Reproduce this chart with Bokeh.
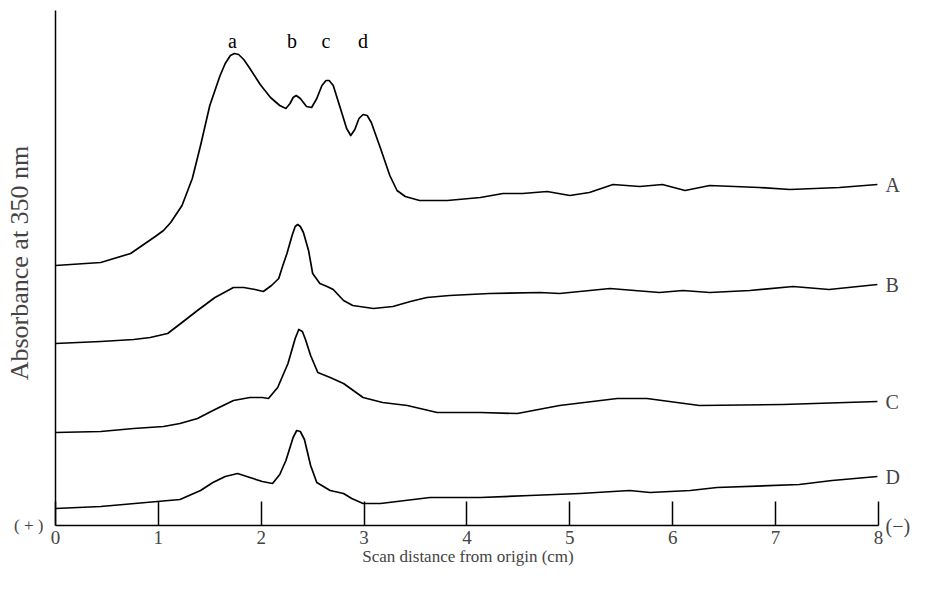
from bokeh.plotting import figure
from bokeh.models import Range1d, FixedTicker, Label, LinearAxis
from bokeh.embed import file_html
from bokeh.resources import INLINE

# Scan distance from origin (cm) and absorbance at 350 nm (arbitrary, offset traces)
xA = [0.00, 0.44, 0.73, 0.97, 1.05, 1.12, 1.23, 1.33, 1.41, 1.50, 1.60, 1.65, 1.70, 1.74, 1.78,
      1.83, 1.89, 1.99, 2.09, 2.18, 2.24, 2.28, 2.31, 2.34, 2.38, 2.44, 2.49, 2.54, 2.59, 2.63,
      2.66, 2.70, 2.77, 2.83, 2.87, 2.91, 2.95, 2.99, 3.03, 3.07, 3.16, 3.25, 3.32, 3.40, 3.54,
      3.81, 4.13, 4.35, 4.54, 4.78, 5.00, 5.19, 5.42, 5.68, 5.90, 6.12, 6.36, 6.84, 7.14, 7.62,
      7.99]
yA = [2.60, 2.63, 2.72, 2.89, 2.95, 3.03, 3.20, 3.47, 3.80, 4.20, 4.50, 4.62, 4.70, 4.72, 4.71,
      4.66, 4.57, 4.41, 4.28, 4.20, 4.17, 4.22, 4.28, 4.30, 4.27, 4.19, 4.18, 4.27, 4.40, 4.45,
      4.45, 4.40, 4.17, 3.97, 3.90, 3.96, 4.07, 4.11, 4.10, 4.03, 3.77, 3.50, 3.35, 3.29, 3.25,
      3.25, 3.28, 3.32, 3.32, 3.34, 3.30, 3.33, 3.41, 3.39, 3.41, 3.35, 3.40, 3.38, 3.36, 3.38,
      3.41]

xB = [0.00, 0.44, 0.76, 0.92, 1.09, 1.23, 1.38, 1.55, 1.73, 1.83, 1.94, 2.02, 2.10, 2.17, 2.21,
      2.25, 2.30, 2.33, 2.355, 2.38, 2.41, 2.46, 2.50, 2.57, 2.64, 2.70, 2.80, 2.89, 3.09, 3.28,
      3.45, 3.61, 3.83, 4.22, 4.71, 4.90, 5.39, 5.87, 6.10, 6.36, 6.75, 7.17, 7.52, 7.99]
yB = [1.82, 1.84, 1.86, 1.88, 1.92, 2.03, 2.15, 2.28, 2.38, 2.38, 2.36, 2.34, 2.40, 2.47, 2.60,
      2.72, 2.90, 2.99, 3.01, 2.99, 2.93, 2.75, 2.52, 2.42, 2.39, 2.36, 2.25, 2.20, 2.17, 2.19,
      2.24, 2.28, 2.30, 2.32, 2.33, 2.32, 2.37, 2.33, 2.35, 2.33, 2.35, 2.39, 2.36, 2.41]

xC = [0.00, 0.44, 0.76, 1.05, 1.21, 1.38, 1.55, 1.73, 1.89, 2.01, 2.07, 2.16, 2.26, 2.33, 2.365,
      2.40, 2.43, 2.48, 2.55, 2.67, 2.80, 2.99, 3.18, 3.42, 3.71, 4.13, 4.49, 4.90, 5.46, 5.75,
      6.26, 7.07, 7.99]
yC = [0.93, 0.94, 0.97, 0.99, 1.02, 1.07, 1.16, 1.25, 1.28, 1.28, 1.27, 1.38, 1.62, 1.87, 1.96,
      1.94, 1.86, 1.70, 1.53, 1.48, 1.42, 1.28, 1.23, 1.20, 1.13, 1.13, 1.12, 1.20, 1.27, 1.27,
      1.20, 1.21, 1.24]

xD = [0.00, 0.44, 0.99, 1.21, 1.41, 1.53, 1.65, 1.77, 1.89, 2.01, 2.11, 2.18, 2.24, 2.31, 2.345,
      2.38, 2.42, 2.48, 2.54, 2.67, 2.80, 2.88, 2.99, 3.16, 3.64, 4.13, 4.61, 5.10, 5.58, 5.78,
      6.17, 6.43, 7.23, 7.55, 7.99]
yD = [0.17, 0.19, 0.24, 0.26, 0.35, 0.43, 0.49, 0.52, 0.48, 0.44, 0.42, 0.51, 0.65, 0.88, 0.95,
      0.94, 0.86, 0.60, 0.43, 0.35, 0.32, 0.27, 0.22, 0.22, 0.28, 0.28, 0.30, 0.32, 0.35, 0.33,
      0.35, 0.38, 0.41, 0.45, 0.49]

x_ticks = [0, 1, 2, 3, 4, 5, 6, 7, 8]
trace_names = ["A", "B", "C", "D"]
peak_names = ["a", "b", "c", "d"]
peak_x = [1.72, 2.30, 2.63, 2.99]
anode_label = "( + )"
cathode_label = "(\u2212)"

SERIF = "Liberation Serif"

p = figure(width=913, height=573, output_backend="svg", toolbar_location=None,
           x_range=Range1d(0, 8.02), y_range=Range1d(0, 5.25),
           min_border_left=55, min_border_right=32, min_border_top=0, min_border_bottom=48)
p.grid.visible = False
p.outline_line_color = None

xa = p.xaxis[0]
xa.ticker = FixedTicker(ticks=x_ticks)
xa.bounds = (0, 8)
xa.major_tick_in = 24
xa.major_tick_out = 0
xa.minor_tick_in = 0
xa.minor_tick_out = 0
xa.axis_line_width = 1.5
xa.major_tick_line_width = 1.5
xa.major_label_text_font = SERIF
xa.major_label_text_font_size = "19px"
xa.major_label_standoff = 5
xa.axis_label = "Scan distance from origin (cm)"
xa.axis_label_text_font = SERIF
xa.axis_label_text_font_style = "normal"
xa.axis_label_text_font_size = "17px"
xa.axis_label_standoff = 0

# left axis: plain line, with the (+) electrode mark at the baseline
ya = p.yaxis[0]
ya.ticker = FixedTicker(ticks=[0])
ya.major_label_overrides = {0: anode_label}
ya.major_label_orientation = "horizontal"
ya.bounds = (0, 5.15)
ya.major_tick_in = 0
ya.major_tick_out = 0
ya.minor_tick_in = 0
ya.minor_tick_out = 0
ya.axis_line_width = 1.5
ya.major_label_text_font = SERIF
ya.major_label_text_font_size = "17px"
ya.major_label_standoff = 12
ya.axis_label = "Absorbance at 350 nm"
ya.axis_label_text_font = SERIF
ya.axis_label_text_font_style = "normal"
ya.axis_label_text_font_size = "26px"
ya.axis_label_standoff = -23

series_x = [xA, xB, xC, xD]
series_y = [yA, yB, yC, yD]
for xs, ys in zip(series_x, series_y):
    p.line(xs, ys, line_color="black", line_width=1.7, line_join="round")

# right axis (no line): trace names at each trace's end, and the (-) electrode mark
end_vals = [ys[-1] for ys in series_y]
overrides = {v: n for v, n in zip(end_vals, trace_names)}
overrides[0] = cathode_label
ra = LinearAxis(ticker=FixedTicker(ticks=end_vals + [0]), major_label_overrides=overrides,
                axis_line_color=None, major_tick_in=0, major_tick_out=0,
                minor_tick_in=0, minor_tick_out=0, major_label_standoff=5,
                major_label_text_font=SERIF, major_label_text_font_size="20px",
                major_label_orientation="horizontal")
p.add_layout(ra, "right")

for px_, name in zip(peak_x, peak_names):
    p.add_layout(Label(x=px_, y=4.85, text=name, text_baseline="alphabetic", text_align="center",
                       text_font=SERIF, text_font_size="20px", text_color="black"))

open("out.html", "w").write(file_html(p, INLINE))
